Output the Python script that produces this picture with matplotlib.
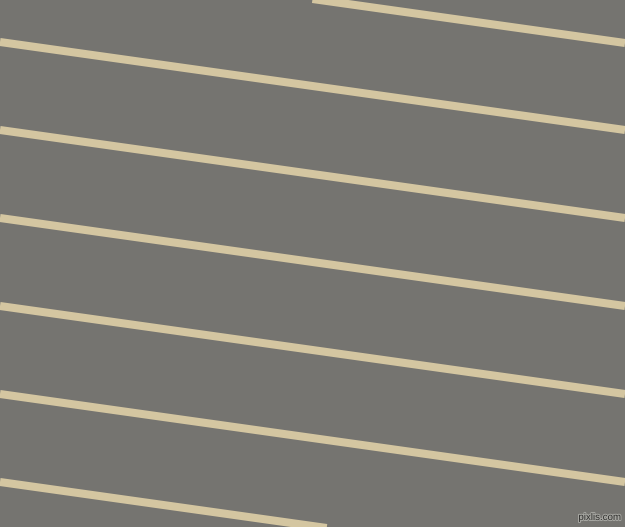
import matplotlib
matplotlib.use("Agg")
import matplotlib.pyplot as plt
import matplotlib.patheffects as pe

# Stripe centre heights (pixels from top) at the left and right edges
left_y = [-45, 42, 130, 218, 306, 394, 482]
right_y = [43, 130, 218, 306, 394, 482, 570]

BG = "#757470"
STRIPE = "#d4c6a1"
W, H = 625, 527

fig = plt.figure(figsize=(W / 100, H / 100), dpi=100)
ax = fig.add_axes([0, 0, 1, 1])
ax.set_facecolor(BG)
fig.patch.set_facecolor(BG)

for y0, y1 in zip(left_y, right_y):
    ax.plot([0, W], [y0, y1], color=STRIPE, linewidth=5.8, solid_capstyle="butt")

ax.set_xlim(0, W)
ax.set_ylim(H, 0)
ax.axis("off")

# watermark
ax.text(621, 522, "pixlis.com", ha="right", va="bottom", fontsize=7,
        family="Liberation Sans", color="#2e2e2c",
        path_effects=[pe.withStroke(linewidth=1.5, foreground="#a5a5a0")])

fig.savefig("out.png", dpi=100, facecolor=BG)
